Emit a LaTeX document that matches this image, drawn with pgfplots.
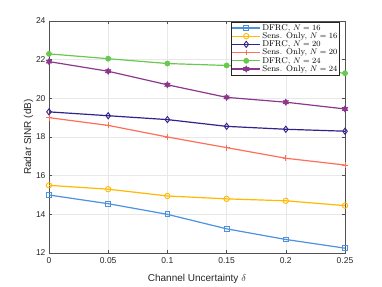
\documentclass[border=0pt]{standalone}
\usepackage{pgfplots}
\pgfplotsset{compat=1.18}
\usepackage{fontspec}
\newfontfamily\arial{Liberation Sans}
\definecolor{cA}{RGB}{77,145,225}
\definecolor{cB}{RGB}{255,185,0}
\definecolor{cC}{RGB}{50,35,140}
\definecolor{cD}{RGB}{255,110,90}
\definecolor{cE}{RGB}{105,200,80}
\definecolor{cF}{RGB}{140,55,140}
\definecolor{axc}{RGB}{38,38,38}
\pgfdeclareplotmark{hexa}{%
 \pgfpathmoveto{\pgfqpointpolar{90}{\pgfplotmarksize}}%
 \pgfpathlineto{\pgfqpointpolar{210}{\pgfplotmarksize}}%
 \pgfpathlineto{\pgfqpointpolar{330}{\pgfplotmarksize}}%
 \pgfpathclose
 \pgfpathmoveto{\pgfqpointpolar{270}{\pgfplotmarksize}}%
 \pgfpathlineto{\pgfqpointpolar{30}{\pgfplotmarksize}}%
 \pgfpathlineto{\pgfqpointpolar{150}{\pgfplotmarksize}}%
 \pgfpathclose
 \pgfusepathqfillstroke}
\begin{document}
\begin{tikzpicture}
\path[use as bounding box] (-49pt,-33pt) rectangle (333pt,253pt);
\begin{axis}[
  at={(0pt,0pt)}, anchor=south west,
  scale only axis, width=296pt, height=232pt,
  xmin=0, xmax=0.25, ymin=12, ymax=24,
  xtick={0,0.05,0.1,0.15,0.2,0.25},
  xticklabels={0,0.05,0.1,0.15,0.2,0.25},
  ytick={12,14,16,18,20,22,24},
  tick align=inside,
  major tick length=3pt,
  grid=major,
  grid style={gray!18, line width=0.4pt},
  axis line style={axc!80, line width=0.5pt},
  tick style={axc!80, line width=0.5pt},
  ticklabel style={font=\arial\fontsize{8.5}{9}\selectfont, text=axc},
  xticklabel style={yshift=-1.5pt},
  /pgf/number format/assume math mode=true,
  xlabel={\arial\fontsize{10}{11}\selectfont Channel Uncertainty $\delta$},
  ylabel={\arial\fontsize{10}{11}\selectfont Radar SINR (dB)},
  xlabel style={text=axc, yshift=-3pt},
  ylabel style={text=axc, yshift=-4pt},
  legend cell align=left,
  legend style={at={(0.983,0.997)}, anchor=north east, font=\fontsize{8.4}{9}\selectfont,
    draw=axc, line width=0.5pt, inner sep=0.8pt, row sep=-2.2pt,
    nodes={inner sep=1.5pt}},
  legend image code/.code={\draw[mark repeat=2,mark phase=2,#1] plot coordinates {(0pt,0pt)(14pt,0pt)(28pt,0pt)};},
  every axis plot/.append style={line width=1.2pt, mark size=2.4pt},
]
\addplot[cA, mark=square, mark options={solid, line width=0.9pt}] coordinates {
(0,15.0) (0.05,14.55) (0.1,14.0) (0.15,13.25) (0.2,12.7) (0.25,12.25)};
\addlegendentry{DFRC, $N=16$}
\addplot[cB, mark=o, mark size=2.7pt, mark options={line width=0.9pt}] coordinates {
(0,15.5) (0.05,15.3) (0.1,14.95) (0.15,14.8) (0.2,14.7) (0.25,14.45)};
\addlegendentry{Sens. Only, $N=16$}
\addplot[cC, mark=diamond, mark size=3.1pt, mark options={line width=0.9pt}] coordinates {
(0,19.3) (0.05,19.1) (0.1,18.9) (0.15,18.55) (0.2,18.4) (0.25,18.3)};
\addlegendentry{DFRC, $N=20$}
\addplot[cD, mark=+, mark size=2.9pt, mark options={line width=0.9pt}] coordinates {
(0,19.0) (0.05,18.6) (0.1,18.0) (0.15,17.45) (0.2,16.9) (0.25,16.55)};
\addlegendentry{Sens. Only, $N=20$}
\addplot[cE, mark=*, mark size=2.3pt] coordinates {
(0,22.3) (0.05,22.05) (0.1,21.8) (0.15,21.7) (0.2,21.55) (0.25,21.3)};
\addlegendentry{DFRC, $N=24$}
\addplot[cF, mark=hexa, mark size=3.1pt, mark options={fill=cF, line width=0.6pt}] coordinates {
(0,21.9) (0.05,21.4) (0.1,20.7) (0.15,20.05) (0.2,19.8) (0.25,19.45)};
\addlegendentry{Sens. Only, $N=24$}
\end{axis}
\end{tikzpicture}
\end{document}
